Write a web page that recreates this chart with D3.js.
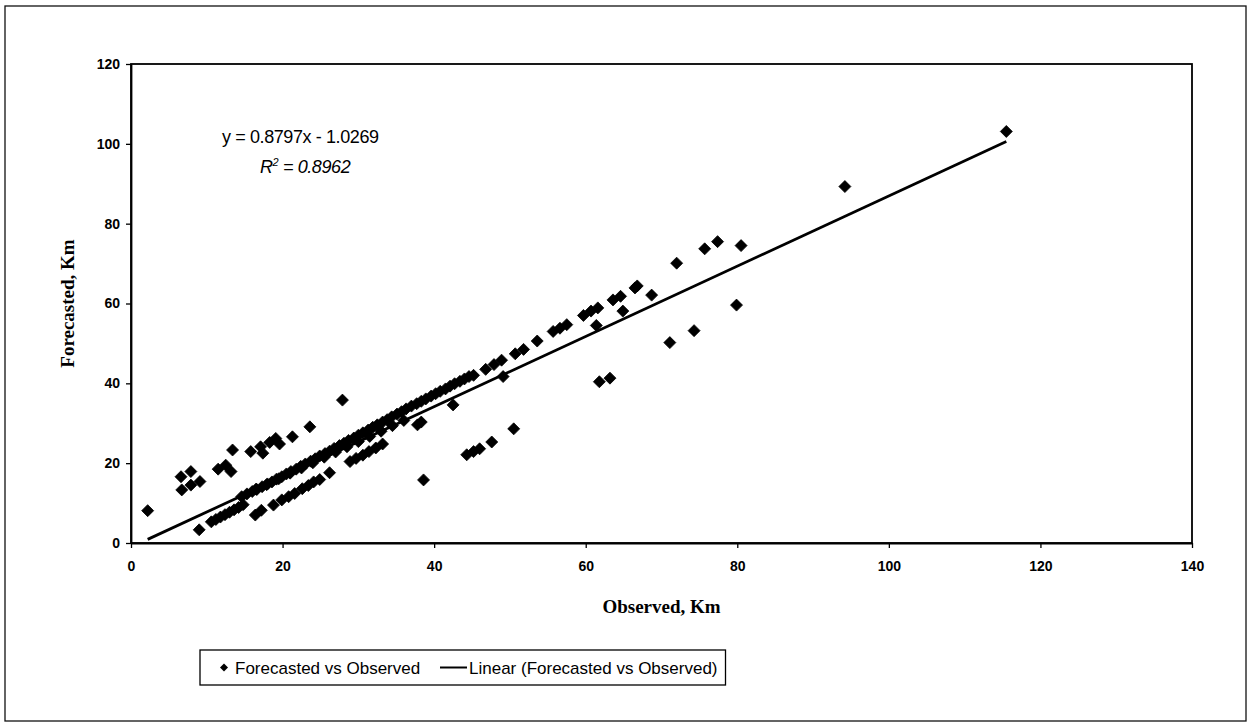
<!DOCTYPE html>
<html>
<head>
<meta charset="utf-8">
<script src="https://cdn.jsdelivr.net/npm/d3@7"></script>
<style>
  html, body { margin: 0; padding: 0; background: #fff; }
  svg { display: block; }
</style>
</head>
<body>
<svg id="chart" width="1252" height="725"></svg>
<script>
// ---- Data ----
const observed = [
  2.2, 9.0, 6.6, 7.9, 6.7, 7.9, 9.1, 11.5, 12.5, 13.2, 13.4, 15.8, 17.1, 17.4, 18.3, 19.1, 19.6, 21.3, 23.6, 27.9,
  10.6, 11.2, 11.8, 12.4, 13.0, 13.6, 14.2, 14.8,
  16.4, 17.2, 18.8, 19.9, 20.8, 21.6, 22.6, 23.4, 24.1, 24.9, 26.2,
  28.9, 29.7, 30.6, 31.4, 32.3, 33.2, 37.8, 38.3, 38.6,
  14.6, 15.3, 16.0, 16.6, 17.3, 17.9, 18.6, 19.2, 19.9, 20.5, 21.1, 21.8, 22.4, 23.0, 23.7, 24.3, 24.9, 25.6, 26.2, 26.8,
  27.5, 28.1, 28.7, 29.4, 30.0, 30.6, 31.3, 31.9, 32.5, 33.2, 33.8, 34.4, 35.1, 35.7, 36.3, 37.0, 37.7, 38.3, 38.9, 39.6,
  40.2, 40.8, 41.5, 42.1, 42.7, 43.4, 44.0, 44.6, 45.2,
  16.5, 18.0, 19.5, 21.0, 22.5, 24.0, 25.5, 27.0, 28.5, 30.0, 31.5, 33.0, 34.5, 36.0,
  42.5, 44.3, 45.2, 46.0, 47.6, 50.5,
  46.8, 47.9, 48.9, 49.1, 50.7, 51.8, 53.6, 55.7, 56.6, 57.5,
  59.7, 60.7, 61.6, 61.4, 61.8, 63.2,
  63.6, 64.6, 64.9, 66.5, 66.8, 68.7,
  71.1, 72.0, 74.3, 75.7, 77.4, 79.9, 80.5,
  94.2, 115.5
];
const forecasted = [
  8.1, 3.3, 16.6, 17.9, 13.3, 14.5, 15.4, 18.5, 19.5, 17.9, 23.3, 22.9, 24.1, 22.5, 25.2, 26.2, 24.8, 26.6, 29.1, 35.8,
  5.3, 5.9, 6.5, 7.1, 7.7, 8.3, 8.9, 9.6,
  7.0, 8.2, 9.5, 10.8, 11.6, 12.4, 13.6, 14.4, 15.3, 15.9, 17.6,
  20.4, 21.2, 22.0, 22.9, 23.8, 24.8, 29.6, 30.3, 15.8,
  11.6, 12.3, 12.9, 13.4, 14.1, 14.6, 15.3, 16.0, 16.6, 17.3, 17.9, 18.5, 19.2, 19.8, 20.5, 21.1, 21.8, 22.4, 23.0, 23.7,
  24.4, 25.0, 25.7, 26.3, 27.0, 27.6, 28.3, 29.0, 29.6, 30.3, 30.9, 31.6, 32.3, 32.9, 33.6, 34.3, 34.9, 35.5, 36.1, 36.8,
  37.4, 38.0, 38.6, 39.3, 39.9, 40.5, 41.1, 41.7, 42.0,
  13.5, 14.8, 16.1, 17.5, 18.8, 20.1, 21.5, 22.8, 24.1, 25.4, 26.7, 28.0, 29.4, 30.7,
  34.6, 22.1, 22.9, 23.6, 25.3, 28.6,
  43.5, 44.7, 45.8, 41.7, 47.4, 48.5, 50.6, 53.0, 53.8, 54.7,
  57.0, 58.1, 58.9, 54.5, 40.4, 41.3,
  60.9, 61.8, 58.1, 63.9, 64.4, 62.1,
  50.2, 70.1, 53.2, 73.7, 75.5, 59.6, 74.5,
  89.3, 103.1
];
const slope = 0.8797;
const intercept = -1.0269;
const equationText = "y = 0.8797x - 1.0269";
const r2Value = "0.8962";
const xTicks = [0, 20, 40, 60, 80, 100, 120, 140];
const yTicks = [0, 20, 40, 60, 80, 100, 120];
const xTitle = "Observed, Km";
const yTitle = "Forecasted, Km";
const legendLabels = ["Forecasted vs Observed", "Linear (Forecasted vs Observed)"];

// ---- Layout ----
const svg = d3.select("#chart");
const plot = { left: 131, top: 64, right: 1192, bottom: 543 };

const x = d3.scaleLinear().domain([0, 140]).range([plot.left, plot.right]);
const y = d3.scaleLinear().domain([0, 120]).range([plot.bottom, plot.top]);

// Outer border
svg.append("rect")
  .attr("x", 5).attr("y", 6).attr("width", 1241).attr("height", 715)
  .attr("fill", "none").attr("stroke", "#111").attr("stroke-width", 1.3);

// Plot frame
svg.append("rect")
  .attr("x", plot.left).attr("y", plot.top)
  .attr("width", plot.right - plot.left).attr("height", plot.bottom - plot.top)
  .attr("fill", "none").attr("stroke", "#000").attr("stroke-width", 1.8);

// Axes
const xAxis = svg.append("g")
  .attr("transform", `translate(0,${plot.bottom})`)
  .call(d3.axisBottom(x).tickValues(xTicks).tickSize(5).tickSizeOuter(0).tickPadding(13));
const yAxis = svg.append("g")
  .attr("transform", `translate(${plot.left},0)`)
  .call(d3.axisLeft(y).tickValues(yTicks).tickSize(5).tickSizeOuter(0).tickPadding(6));

[xAxis, yAxis].forEach(g => {
  g.select(".domain").attr("stroke", "#000").attr("stroke-width", 1.8);
  g.selectAll(".tick line").attr("stroke", "#000").attr("stroke-width", 1.3);
  g.selectAll(".tick text")
    .attr("fill", "#000")
    .style("font-family", "'Liberation Sans', Arial, sans-serif")
    .style("font-weight", "bold")
    .style("font-size", "14px");
});

// Axis titles
svg.append("text")
  .attr("x", (plot.left + plot.right) / 2).attr("y", 613)
  .attr("text-anchor", "middle")
  .style("font-family", "'Liberation Serif', 'Times New Roman', serif")
  .style("font-weight", "bold").style("font-size", "19px")
  .text(xTitle);

svg.append("text")
  .attr("transform", `translate(74,${(plot.top + plot.bottom) / 2}) rotate(-90)`)
  .attr("text-anchor", "middle")
  .style("font-family", "'Liberation Serif', 'Times New Roman', serif")
  .style("font-weight", "bold").style("font-size", "19px")
  .text(yTitle);

// Trendline
const xMin = d3.min(observed), xMax = d3.max(observed);
svg.append("line")
  .attr("x1", x(xMin)).attr("y1", y(slope * xMin + intercept))
  .attr("x2", x(xMax)).attr("y2", y(slope * xMax + intercept))
  .attr("stroke", "#000").attr("stroke-width", 2.8);

// Diamond markers
const diamond = (s) => `M0,${-s}L${s},0L0,${s}L${-s},0Z`;
svg.append("g").selectAll("path")
  .data(observed.map((d, i) => [d, forecasted[i]]))
  .join("path")
  .attr("transform", d => `translate(${x(d[0])},${y(d[1])})`)
  .attr("d", diamond(6))
  .attr("fill", "#000")
  .attr("stroke", "#000").attr("stroke-width", 0.8).attr("stroke-linejoin", "round");

// Equation text
svg.append("text")
  .attr("x", 222).attr("y", 143)
  .style("font-family", "'Liberation Sans', Arial, sans-serif")
  .style("font-size", "18px").style("letter-spacing", "-0.4px")
  .text(equationText);

const r2 = svg.append("text")
  .attr("x", 260).attr("y", 173)
  .style("font-family", "'Liberation Sans', Arial, sans-serif")
  .style("font-size", "18px").style("font-style", "italic").style("letter-spacing", "-0.4px");
r2.append("tspan").text("R");
r2.append("tspan").attr("dy", -7).style("font-size", "11px").text("2");
r2.append("tspan").attr("dy", 7).text(" = " + r2Value);

// Legend
const lg = svg.append("g");
const legTop = 650, legH = 35, legLeft = 200;
const legRect = lg.append("rect")
  .attr("x", legLeft).attr("y", legTop).attr("height", legH)
  .attr("fill", "#fff").attr("stroke", "#000").attr("stroke-width", 1.3);
const cy = legTop + legH / 2;
lg.append("path").attr("transform", `translate(224,${cy})`).attr("d", diamond(4)).attr("fill", "#000");
lg.append("text")
  .attr("x", 235).attr("y", cy + 6)
  .style("font-family", "'Liberation Sans', Arial, sans-serif").style("font-size", "17px")
  .text(legendLabels[0]);
lg.append("line")
  .attr("x1", 440).attr("x2", 467).attr("y1", cy).attr("y2", cy)
  .attr("stroke", "#000").attr("stroke-width", 2);
const t2 = lg.append("text")
  .attr("x", 469).attr("y", cy + 6)
  .style("font-family", "'Liberation Sans', Arial, sans-serif").style("font-size", "17px")
  .text(legendLabels[1]);
const bb = t2.node().getBBox();
legRect.attr("width", bb.x + bb.width + 8 - legLeft);
</script>
</body>
</html>
